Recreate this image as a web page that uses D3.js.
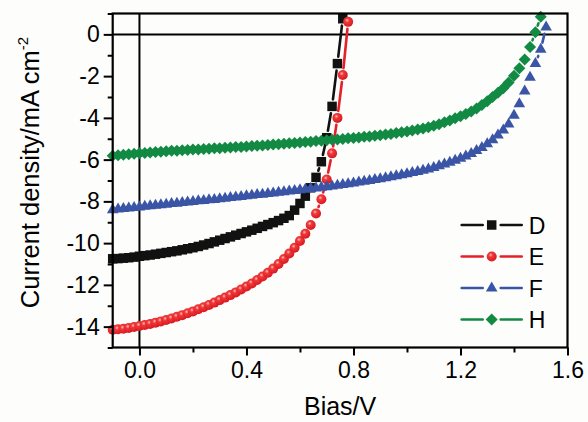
<!DOCTYPE html>
<html>
<head>
<meta charset="utf-8">
<script src="https://cdn.jsdelivr.net/npm/d3@7/dist/d3.min.js"></script>
<style>
  body { margin: 0; background: #fdfdfb; }
  svg { display: block; }
  text { font-family: "Liberation Sans", Arial, sans-serif; fill: #000; }
</style>
</head>
<body>
<svg id="chart" width="588" height="422"></svg>
<script>
// bias sweep (V), 0.02 V steps
const bias = [
  -0.10, -0.08, -0.06, -0.04, -0.02, 0.00, 0.02, 0.04, 0.06, 0.08,
  0.10, 0.12, 0.14, 0.16, 0.18, 0.20, 0.22, 0.24, 0.26, 0.28,
  0.30, 0.32, 0.34, 0.36, 0.38, 0.40, 0.42, 0.44, 0.46, 0.48,
  0.50, 0.52, 0.54, 0.56, 0.58, 0.60, 0.62, 0.64, 0.66, 0.68,
  0.70, 0.72, 0.74, 0.76, 0.78, 0.80, 0.82, 0.84, 0.86, 0.88,
  0.90, 0.92, 0.94, 0.96, 0.98, 1.00, 1.02, 1.04, 1.06, 1.08,
  1.10, 1.12, 1.14, 1.16, 1.18, 1.20, 1.22, 1.24, 1.26, 1.28,
  1.30, 1.32, 1.34, 1.36, 1.38, 1.40, 1.42, 1.44, 1.46, 1.48,
  1.50, 1.52
];

// current density (mA cm-2) for each device
const currentD = [
  -10.75, -10.74, -10.72, -10.70, -10.67, -10.63, -10.60, -10.57, -10.53, -10.49,
  -10.45, -10.41, -10.37, -10.32, -10.27, -10.22, -10.16, -10.09, -10.02, -9.94,
  -9.86, -9.78, -9.70, -9.62, -9.54, -9.46, -9.38, -9.29, -9.20, -9.11,
  -9.02, -8.92, -8.81, -8.68, -8.42, -8.10, -7.75, -7.35, -6.85, -6.10,
  -4.95, -3.45, -1.40, 0.75
];
const currentE = [
  -14.15, -14.13, -14.10, -14.06, -14.02, -13.97, -13.92, -13.87, -13.81, -13.75,
  -13.68, -13.61, -13.53, -13.45, -13.36, -13.27, -13.17, -13.07, -12.96, -12.85,
  -12.73, -12.61, -12.49, -12.36, -12.22, -12.08, -11.93, -11.77, -11.60, -11.42,
  -11.22, -11.00, -10.76, -10.50, -10.22, -9.90, -9.55, -9.13, -8.58, -7.90,
  -6.95, -5.70, -4.00, -1.95, 0.60
];
const currentF = [
  -8.40, -8.37, -8.35, -8.32, -8.30, -8.27, -8.24, -8.22, -8.19, -8.17,
  -8.14, -8.11, -8.09, -8.06, -8.04, -8.01, -7.98, -7.96, -7.93, -7.91,
  -7.88, -7.85, -7.82, -7.80, -7.77, -7.74, -7.71, -7.68, -7.66, -7.63,
  -7.60, -7.57, -7.54, -7.51, -7.48, -7.45, -7.42, -7.39, -7.36, -7.33,
  -7.30, -7.27, -7.23, -7.20, -7.16, -7.12, -7.08, -7.04, -7.00, -6.96,
  -6.92, -6.87, -6.83, -6.78, -6.73, -6.68, -6.62, -6.57, -6.51, -6.45,
  -6.38, -6.30, -6.22, -6.13, -6.04, -5.94, -5.83, -5.71, -5.57, -5.42,
  -5.25, -5.05, -4.83, -4.58, -4.30, -3.88, -3.33, -2.72, -2.06, -1.40,
  -0.72, 0.35
];
const currentH = [
  -5.82, -5.79, -5.77, -5.74, -5.72, -5.70, -5.68, -5.66, -5.64, -5.62,
  -5.60, -5.58, -5.57, -5.55, -5.54, -5.52, -5.51, -5.49, -5.48, -5.46,
  -5.45, -5.43, -5.42, -5.40, -5.39, -5.37, -5.35, -5.33, -5.32, -5.30,
  -5.28, -5.26, -5.24, -5.22, -5.20, -5.18, -5.16, -5.14, -5.11, -5.09,
  -5.07, -5.05, -5.03, -5.01, -4.98, -4.96, -4.94, -4.91, -4.89, -4.86,
  -4.83, -4.80, -4.77, -4.73, -4.69, -4.65, -4.61, -4.56, -4.51, -4.45,
  -4.38, -4.30, -4.21, -4.12, -4.02, -3.92, -3.81, -3.69, -3.55, -3.38,
  -3.20, -3.00, -2.80, -2.58, -2.30, -1.98, -1.62, -1.20, -0.60, 0.10,
  0.85
];

const seriesNames = ["D", "E", "F", "H"];
const seriesColors = ["#111111", "#e4202a", "#3a55a6", "#128a44"];

const xTicks = [0.0, 0.4, 0.8, 1.2, 1.6];
const xTickLabels = ["0.0", "0.4", "0.8", "1.2", "1.6"];
const xMinorTicks = [0.2, 0.6, 1.0, 1.4];
const yTicks = [0, -2, -4, -6, -8, -10, -12, -14];
const yTickLabels = ["0", "-2", "-4", "-6", "-8", "-10", "-12", "-14"];
const yMinorTicks = [1, -1, -3, -5, -7, -9, -11, -13, -15];

const series = [currentD, currentE, currentF, currentH].map(function(vals, i) {
  return {
    name: seriesNames[i],
    color: seriesColors[i],
    points: vals.map((v, j) => ({ x: bias[j], y: v }))
  };
});

const svg = d3.select("#chart");
const plotLeft = 112.7, plotRight = 567.5, plotTop = 13.5, plotBottom = 347.5;

const x = d3.scaleLinear().domain([-0.1, 1.6]).range([plotLeft, plotRight]);
const y = d3.scaleLinear().domain([-15, 1]).range([plotBottom, plotTop]);

// gradient for the shaded red balls
const defs = svg.append("defs");
const grad = defs.append("radialGradient")
  .attr("id", "ball")
  .attr("cx", "40%").attr("cy", "35%").attr("r", "65%");
grad.append("stop").attr("offset", "0%").attr("stop-color", "#ffc0c0");
grad.append("stop").attr("offset", "30%").attr("stop-color", "#f03a3a");
grad.append("stop").attr("offset", "100%").attr("stop-color", "#d81820");

// zero lines
svg.append("line")
  .attr("x1", x(0)).attr("x2", x(0))
  .attr("y1", plotTop).attr("y2", plotBottom)
  .attr("stroke", "#000").attr("stroke-width", 2);
svg.append("line")
  .attr("x1", plotLeft).attr("x2", plotRight)
  .attr("y1", y(0)).attr("y2", y(0))
  .attr("stroke", "#000").attr("stroke-width", 2);

function markerPath(name) {
  if (name === "D") return d3.symbol(d3.symbolSquare, 90)();
  if (name === "F") return "M0,-6.6L5.8,3.4L-5.8,3.4Z";
  if (name === "H") return "M0,-6L6,0L0,6L-6,0Z";
  return null;
}

function drawMarker(sel, s) {
  if (s.name === "E") {
    sel.append("circle").attr("r", 5).attr("fill", "url(#ball)");
  } else {
    sel.append("path").attr("d", markerPath(s.name)).attr("fill", s.color);
  }
}

// curves: line segments with a gap around each symbol, then symbols
const gap = 7;
series.forEach(function(s) {
  const g = svg.append("g").attr("class", "series");
  const pts = s.points.map(p => [x(p.x), y(p.y)]);
  for (let i = 1; i < pts.length; i++) {
    const [x0, y0] = pts[i - 1], [x1, y1] = pts[i];
    const len = Math.hypot(x1 - x0, y1 - y0);
    if (len <= 2 * gap + 1) continue;
    const ux = (x1 - x0) / len, uy = (y1 - y0) / len;
    g.append("line")
      .attr("x1", x0 + ux * gap).attr("y1", y0 + uy * gap)
      .attr("x2", x1 - ux * gap).attr("y2", y1 - uy * gap)
      .attr("stroke", s.color).attr("stroke-width", 2.6)
      .attr("stroke-linecap", "round");
  }
  g.selectAll("g.pt")
    .data(s.points)
    .enter()
    .append("g")
    .attr("class", "pt")
    .attr("transform", d => translate(x(d.x), y(d.y)))
    .each(function() { drawMarker(d3.select(this), s); });
});

// frame
svg.append("rect")
  .attr("x", plotLeft).attr("y", plotTop)
  .attr("width", plotRight - plotLeft).attr("height", plotBottom - plotTop)
  .attr("fill", "none").attr("stroke", "#000").attr("stroke-width", 2.2);

// axes
svg.append("g").attr("transform", translate(0, plotBottom))
  .call(d3.axisBottom(x).tickValues(xTicks).tickSize(8).tickSizeOuter(0)
    .tickPadding(6).tickFormat((d, i) => xTickLabels[i]));
svg.append("g").attr("transform", translate(0, plotBottom))
  .call(d3.axisBottom(x).tickValues(xMinorTicks).tickSize(5).tickSizeOuter(0).tickFormat(""));

svg.append("g").attr("transform", translate(plotLeft, 0))
  .call(d3.axisLeft(y).tickValues(yTicks).tickSize(9).tickSizeOuter(0)
    .tickPadding(4).tickFormat((d, i) => yTickLabels[i]));
svg.append("g").attr("transform", translate(plotLeft, 0))
  .call(d3.axisLeft(y).tickValues(yMinorTicks).tickSize(5).tickSizeOuter(0).tickFormat(""));

svg.selectAll(".domain").remove();
svg.selectAll(".tick line").attr("stroke", "#000").attr("stroke-width", 2);
svg.selectAll(".tick text")
  .style("font-family", "'Liberation Sans', Arial, sans-serif")
  .style("font-size", "23px").attr("fill", "#000");

// axis titles
svg.append("text")
  .attr("x", (plotLeft + plotRight) / 2).attr("y", 415)
  .attr("text-anchor", "middle")
  .style("font-size", "25px")
  .text("Bias/V");

const yTitle = svg.append("text")
  .attr("transform", translate(38.5, 172.5) + " rotate(-90)")
  .attr("text-anchor", "middle")
  .style("font-size", "25.5px");
yTitle.append("tspan").text("Current density/mA cm");
yTitle.append("tspan").attr("dy", -11).style("font-size", "15px").text("-2");

// legend
const legend = svg.append("g").attr("transform", translate(461.7, 225));
series.forEach(function(s, i) {
  const row = legend.append("g").attr("transform", translate(0, i * 31.5));
  row.append("line").attr("x1", 0).attr("x2", 21).attr("y1", 0).attr("y2", 0)
    .attr("stroke", s.color).attr("stroke-width", 2.6).attr("stroke-linecap", "round");
  row.append("line").attr("x1", 39).attr("x2", 60).attr("y1", 0).attr("y2", 0)
    .attr("stroke", s.color).attr("stroke-width", 2.6).attr("stroke-linecap", "round");
  const m = row.append("g").attr("transform", translate(30, 0));
  drawMarker(m, s);
  row.append("text").attr("x", 67).attr("y", 8.5)
    .style("font-size", "23px").text(s.name);
});

function translate(x, y) {
  return "translate(" + String(x) + "," + String(y) + ")";
}
</script>
</body>
</html>
